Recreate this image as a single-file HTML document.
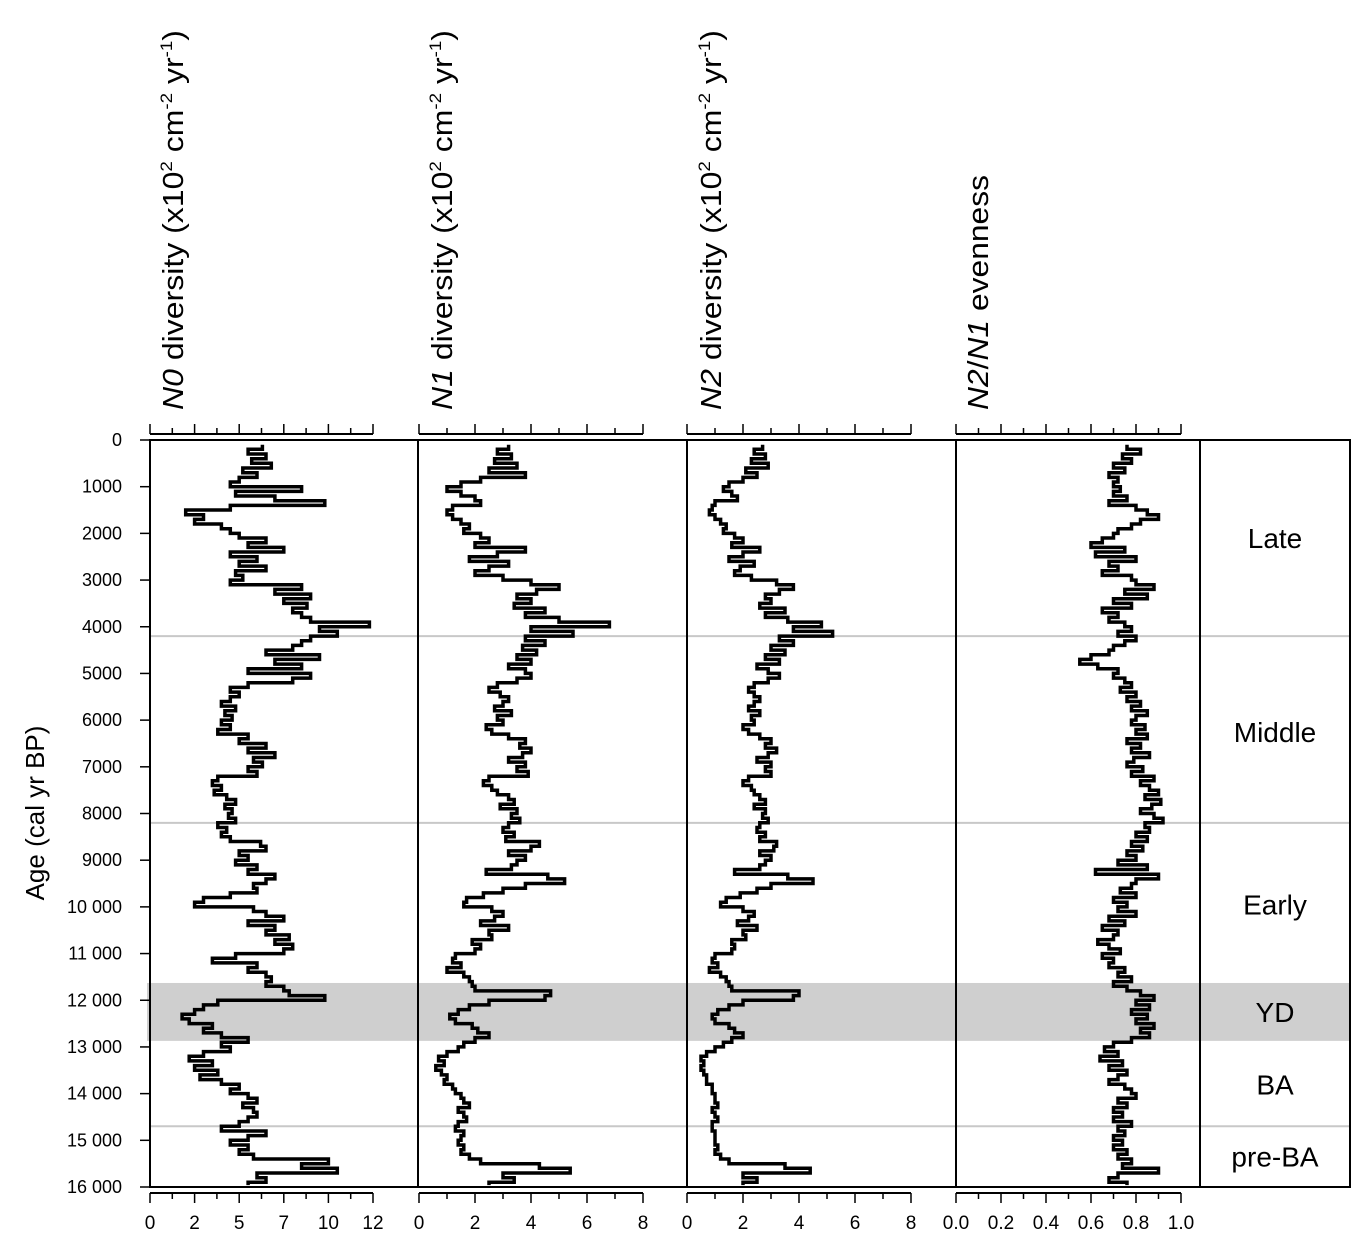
<!DOCTYPE html>
<html><head><meta charset="utf-8"><style>
body{margin:0;background:#fff;}
svg{display:block;font-family:"Liberation Sans",Arial,sans-serif;}
</style></head><body>
<svg id="chart" width="1370" height="1252" viewBox="0 0 1370 1252" xmlns="http://www.w3.org/2000/svg">
<g id="bg"></g><g id="marks"></g><g id="axes"></g>
</svg>
<script>
const ages=[];for(let a=100;a<=15900;a+=100)ages.push(a);
const n0Values=[6.3,5.5,6.5,5.7,6.8,5.2,6.0,5.0,4.5,
8.5,4.8,7.0,9.8,4.5,2.0,3.0,2.5,4.0,4.5,
5.0,6.5,5.5,7.5,4.5,6.0,5.0,6.5,4.8,5.2,
4.5,8.5,7.0,9.0,7.5,8.8,8.0,8.5,9.0,12.3,
9.5,10.5,9.0,8.5,8.0,6.5,9.5,7.0,8.5,5.5,
9.0,8.0,5.5,4.5,5.0,4.5,4.0,4.8,4.2,4.6,
4.0,4.5,3.8,5.5,5.0,6.5,5.5,7.0,5.8,6.3,
5.5,6.0,3.8,3.5,4.0,3.6,4.3,4.8,4.2,4.6,
4.4,4.8,3.8,4.3,4.0,4.5,6.2,6.5,5.0,5.5,
4.8,6.0,5.5,7.0,6.5,5.8,6.0,4.5,3.0,2.5,
5.8,6.5,7.5,5.5,7.0,6.5,7.8,7.0,8.0,7.5,
4.8,3.5,6.0,5.5,6.5,6.8,6.5,7.5,7.8,9.8,
3.8,3.0,2.5,1.8,2.2,3.5,3.0,4.0,5.5,4.0,
4.5,3.0,2.2,3.5,2.5,3.8,2.8,4.0,5.0,4.5,
5.5,6.0,5.2,5.8,6.0,5.5,5.0,4.0,6.5,5.5,
4.5,5.5,5.0,5.8,10.0,8.5,10.5,6.0,6.5,5.5];
const n1Values=[3.2,2.8,3.3,2.7,3.5,2.5,3.8,2.2,1.5,
1.0,1.5,2.0,2.2,1.2,1.0,1.2,1.5,1.8,1.6,
2.2,2.5,2.0,3.8,2.8,1.8,3.2,2.5,2.0,3.0,
4.0,5.0,4.2,3.5,4.0,3.4,4.5,3.8,5.0,6.8,
4.0,5.5,3.8,4.5,3.7,4.2,3.5,4.0,3.2,3.8,
4.0,3.5,2.8,2.5,2.9,3.2,3.0,2.7,3.3,2.8,
3.0,2.4,2.6,3.2,3.8,3.6,4.0,3.7,3.2,3.8,
3.5,3.9,2.5,2.3,2.6,2.8,3.2,3.4,2.9,3.5,
3.3,3.6,3.2,3.0,3.4,3.1,4.3,4.0,3.2,3.8,
3.5,3.3,2.4,4.6,5.2,3.8,3.0,2.3,1.7,1.6,
2.6,3.0,2.7,2.2,3.2,2.5,2.6,1.9,2.2,2.0,
1.3,1.2,1.5,1.0,1.6,1.8,1.9,2.0,4.7,4.5,
2.5,1.8,1.4,1.1,1.3,1.9,2.1,2.5,2.0,1.6,
1.4,1.0,0.7,0.9,0.6,0.8,1.0,0.9,1.2,1.3,
1.5,1.6,1.8,1.4,1.6,1.7,1.4,1.3,1.6,1.5,
1.4,1.6,1.5,1.8,2.2,4.3,5.4,3.0,3.4,2.5];
const n2Values=[2.7,2.4,2.8,2.3,2.9,2.1,2.5,2.0,1.5,
1.3,1.6,1.8,1.0,0.9,0.8,1.0,1.2,1.4,1.3,
1.7,2.0,1.6,2.6,2.0,1.5,2.4,1.9,1.7,2.3,
3.2,3.8,3.3,2.8,3.0,2.6,3.5,2.8,3.6,4.8,
3.8,5.2,3.3,3.8,3.0,3.5,2.8,3.3,2.5,2.9,
3.3,2.9,2.4,2.2,2.4,2.6,2.4,2.2,2.6,2.3,
2.4,2.0,2.2,2.6,3.0,2.8,3.2,2.9,2.5,3.0,
2.8,3.0,2.2,2.0,2.3,2.4,2.6,2.8,2.4,2.8,
2.7,2.9,2.6,2.5,2.8,2.6,3.2,3.1,2.6,3.0,
2.8,2.6,1.7,3.6,4.5,3.0,2.5,1.9,1.4,1.2,
2.0,2.4,2.2,1.8,2.5,2.0,2.1,1.6,1.7,1.6,
1.0,0.9,1.1,0.8,1.2,1.4,1.5,1.6,4.0,3.8,
2.0,1.5,1.1,0.9,1.0,1.5,1.7,2.0,1.6,1.3,
1.0,0.7,0.5,0.6,0.5,0.6,0.7,0.7,0.9,0.9,
1.0,1.0,1.1,0.9,1.0,1.1,0.9,0.9,1.0,1.0,
1.0,1.1,1.0,1.2,1.5,3.5,4.4,2.0,2.5,2.0];
const evenValues=[0.76,0.82,0.74,0.78,0.70,0.75,0.68,0.72,0.70,
0.73,0.70,0.76,0.68,0.80,0.85,0.90,0.82,0.78,0.72,
0.70,0.65,0.60,0.75,0.62,0.80,0.68,0.72,0.65,0.78,
0.80,0.88,0.75,0.85,0.70,0.78,0.65,0.72,0.68,0.75,
0.78,0.72,0.80,0.75,0.70,0.68,0.60,0.55,0.63,0.72,
0.70,0.75,0.78,0.73,0.80,0.76,0.82,0.78,0.85,0.80,
0.78,0.84,0.80,0.85,0.76,0.82,0.78,0.86,0.79,0.76,
0.83,0.78,0.88,0.82,0.86,0.90,0.84,0.91,0.87,0.82,
0.88,0.92,0.84,0.86,0.80,0.85,0.78,0.83,0.76,0.80,
0.72,0.85,0.62,0.90,0.80,0.78,0.73,0.80,0.70,0.76,
0.72,0.80,0.68,0.75,0.65,0.72,0.70,0.63,0.68,0.73,
0.65,0.70,0.68,0.75,0.72,0.78,0.70,0.76,0.82,0.88,
0.80,0.86,0.78,0.85,0.80,0.88,0.82,0.86,0.78,0.70,
0.66,0.72,0.64,0.74,0.68,0.76,0.72,0.68,0.75,0.78,
0.80,0.72,0.76,0.70,0.74,0.70,0.78,0.72,0.75,0.70,
0.74,0.70,0.76,0.72,0.78,0.74,0.90,0.72,0.68,0.76];
const yTicks=[0,1000,2000,3000,4000,5000,6000,7000,8000,9000,10000,11000,12000,13000,14000,15000,16000];
const yTickLabels=["0","1000","2000","3000","4000","5000","6000","7000","8000","9000","10 000","11 000","12 000","13 000","14 000","15 000","16 000"];
const zoneNames=["Late","Middle","Early","YD","BA","pre-BA"];
const zoneMid=[2100,6250,9950,12250,13800,15350];
const zoneBounds=[4200,8200,14700];
const ydBand=[11630,12870];

const NS="http://www.w3.org/2000/svg";
const Y0=440,Y1=1187;
const y=a=>Y0+(a/16000)*(Y1-Y0);
function mk(tag,attrs,parent,txt){const e=document.createElementNS(NS,tag);for(const k in attrs)e.setAttribute(k,attrs[k]);if(txt!==undefined)e.textContent=txt;parent.appendChild(e);return e;}
const bg=document.getElementById('bg'),marks=document.getElementById('marks'),axes=document.getElementById('axes');

const panels=[
 {name:"n0",a0:150,a1:373,max:12.5,vals:n0Values,majors:[0,2.5,5,7.5,10,12.5],labels:["0","2","5","7","10","12"],minorStep:1.25,title:["N","0"," diversity (x10","2"," cm","-2"," yr","-1",")"],tx:183,len:380},
 {name:"n1",a0:419,a1:643,max:8,vals:n1Values,majors:[0,2,4,6,8],labels:["0","2","4","6","8"],minorStep:1,title:["N","1"," diversity  (x10","2"," cm","-2"," yr","-1",")"],tx:452,len:380},
 {name:"n2",a0:687,a1:911,max:8,vals:n2Values,majors:[0,2,4,6,8],labels:["0","2","4","6","8"],minorStep:1,title:["N","2"," diversity  (x10","2"," cm","-2"," yr","-1",")"],tx:721,len:380},
 {name:"evenness",a0:956,a1:1181,max:1,vals:evenValues,majors:[0,0.2,0.4,0.6,0.8,1.0],labels:["0.0","0.2","0.4","0.6","0.8","1.0"],minorStep:0.1,title:["N","2","/","N","1"," evenness"],tx:988,len:235}
];

let r=mk('rect',{x:147,y:y(ydBand[0]),width:1203,height:y(ydBand[1])-y(ydBand[0]),fill:'#cfcfcf'},bg);


zoneBounds.forEach(b=>{const l=mk('line',{x1:150,x2:1350,y1:y(b),y2:y(b),stroke:'#c8c8c8','stroke-width':2},bg);

});

const fr=mk('rect',{x:150,y:Y0,width:1200,height:Y1-Y0,fill:'none',stroke:'#000','stroke-width':2},axes);


[418,687,956,1200].forEach(xx=>{const l=mk('line',{x1:xx,x2:xx,y1:Y0,y2:Y1,stroke:'#000','stroke-width':2},axes);

});

panels.forEach(p=>{
 const sx=v=>p.a0+(v/p.max)*(p.a1-p.a0);
 let d='M'+sx(p.vals[0]).toFixed(1)+','+y(ages[0]).toFixed(1);
 for(let i=0;i<p.vals.length;i++){
   d+=' H'+sx(p.vals[i]).toFixed(1);
   const next=i+1<ages.length?ages[i+1]:ages[i]+60;
   d+=' V'+y(next).toFixed(1);
 }
 const path=mk('path',{d:d,fill:'none',stroke:'#000','stroke-width':3.5,'stroke-linejoin':'miter'},marks);
 
 
 [[434,-1],[1193,1]].forEach(([ay,dir],k)=>{
   const g=mk('g',{},axes);
   
   
   mk('line',{x1:p.a0,x2:p.a1,y1:ay,y2:ay,stroke:'#000','stroke-width':2},g);
   for(let v=0;v<=p.max+1e-9;v+=p.minorStep){
     const isMaj=p.majors.some(m=>Math.abs(m-v)<1e-6);
     mk('line',{x1:sx(v),x2:sx(v),y1:ay,y2:ay+dir*(isMaj?10:6),stroke:'#000','stroke-width':1.5},g);
   }
   if(k){p.majors.forEach((m,i)=>{const t=mk('text',{x:sx(m),y:1229,'font-size':19,'text-anchor':'middle'},g,p.labels[i]);
     
     });}
 });
 const t=mk('text',{transform:`translate(${p.tx},410) rotate(-90)`,'font-size':29,textLength:p.len,lengthAdjust:'spacingAndGlyphs'},axes);
 
 
 p.title.forEach((s,i)=>{
   const ts=mk('tspan',{},t,s);
   if(p.name==='evenness'){ if(i<5&&s!=='/') ts.setAttribute('font-style','italic');}
   else{
     if(i<2)ts.setAttribute('font-style','italic');
     if(i===3||i===5||i===7){ts.setAttribute('font-size','17');ts.setAttribute('dy','-11');}
     if(i===4||i===6||i===8){ts.setAttribute('dy','11');}
   }
 });
});

yTicks.forEach((v,i)=>{
 const tk=mk('line',{x1:140,x2:150,y1:y(v),y2:y(v),stroke:'#000','stroke-width':1.5},axes);
 
 
 const t=mk('text',{x:122,y:y(v)+6,'font-size':18,'text-anchor':'end'},axes,yTickLabels[i]);
 
 
});
const yt=mk('text',{transform:'translate(44,813) rotate(-90)','font-size':26,'text-anchor':'middle'},axes,'Age (cal yr BP)');



zoneNames.forEach((z,i)=>{
 const t=mk('text',{x:1275,y:y(zoneMid[i])+10,'font-size':28,'text-anchor':'middle'},axes,z);
 
 
});
</script>
</body></html>
